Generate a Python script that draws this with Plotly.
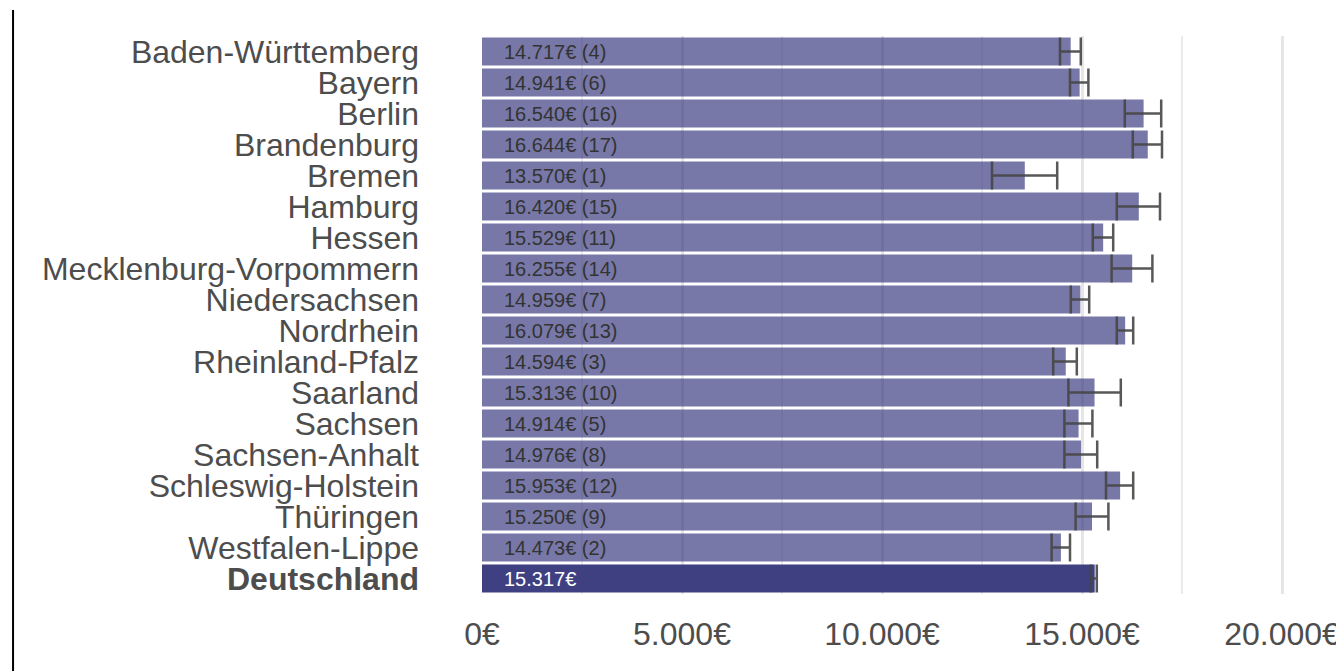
import plotly.graph_objects as go

# Werte je Land, Reihenfolge von oben nach unten
laender = ["Baden-Württemberg", "Bayern", "Berlin", "Brandenburg", "Bremen", "Hamburg",
           "Hessen", "Mecklenburg-Vorpommern", "Niedersachsen", "Nordrhein",
           "Rheinland-Pfalz", "Saarland", "Sachsen", "Sachsen-Anhalt",
           "Schleswig-Holstein", "Thüringen", "Westfalen-Lippe", "Deutschland"]
werte = [14717, 14941, 16540, 16644, 13570, 16420, 15529, 16255, 14959, 16079,
         14594, 15313, 14914, 14976, 15953, 15250, 14473, 15317]
raenge = [4, 6, 16, 17, 1, 15, 11, 14, 7, 13, 3, 10, 5, 8, 12, 9, 2, None]
# Konfidenzintervall (untere / obere Grenze)
ki_unten = [14450, 14700, 16070, 16270, 12750, 15870, 15270, 15740, 14720, 15870,
            14280, 14660, 14560, 14560, 15600, 14840, 14240, 15220]
ki_oben = [14970, 15160, 16980, 17000, 14380, 16950, 15780, 16760, 15180, 16280,
           14870, 15970, 15260, 15380, 16280, 15660, 14700, 15370]
x_ticks = [0, 5000, 10000, 15000, 20000]
x_ticktext = ["0€", "5.000€", "10.000€", "15.000€", "20.000€"]


def fmt(v):
    return f"{v:,}".replace(",", ".") + "€"


y_text = [("<b>%s</b>" % l) if l == "Deutschland" else l for l in laender]
farben = ["rgba(58,60,128,0.98)" if l == "Deutschland" else "rgba(58,60,128,0.69)" for l in laender]

fig = go.Figure()
fig.add_trace(go.Bar(
    y=laender, x=werte, orientation="h",
    marker=dict(color=farben, line=dict(width=0)),
    error_x=dict(type="data", symmetric=False,
                 array=[o - w for o, w in zip(ki_oben, werte)],
                 arrayminus=[w - u for u, w in zip(ki_unten, werte)],
                 color="rgba(70,70,70,0.9)", thickness=2.5, width=14),
    hoverinfo="x+y",
))

for l, w, r in zip(laender, werte, raenge):
    txt = fmt(w) if r is None else f"{fmt(w)} ({r})"
    fig.add_annotation(x=0, y=l, text=txt, showarrow=False, xanchor="left", xshift=20,
                       font=dict(family="Liberation Sans, Arial", size=20,
                                 color="white" if r is None else "#333333"))

# schwarze Linie am linken Rand
fig.add_shape(type="line", xref="paper", yref="paper", x0=-0.5453, x1=-0.5453,
              y0=-0.14, y1=1.0466, line=dict(color="black", width=2))

fig.update_layout(
    width=1336, height=663,
    margin=dict(l=474, r=2, t=28, b=77),
    plot_bgcolor="white", paper_bgcolor="white",
    bargap=0.1, showlegend=False,
    font=dict(family="Liberation Sans, Arial", size=32, color="#4d4d4d"),
    xaxis=dict(range=[0, 21500], tickvals=x_ticks, ticktext=x_ticktext,
               showgrid=True, gridcolor="#e6e6e6", gridwidth=2.5,
               minor=dict(dtick=2500, tick0=0, showgrid=True, gridcolor="#ebebeb", gridwidth=2),
               zeroline=False, showline=False, ticks="", ticklabelstandoff=18),
    yaxis=dict(autorange="reversed", tickvals=laender, ticktext=y_text,
               showgrid=False, zeroline=False, showline=False, ticks="",
               ticklabelstandoff=62),
)

fig.write_html("out.html")
